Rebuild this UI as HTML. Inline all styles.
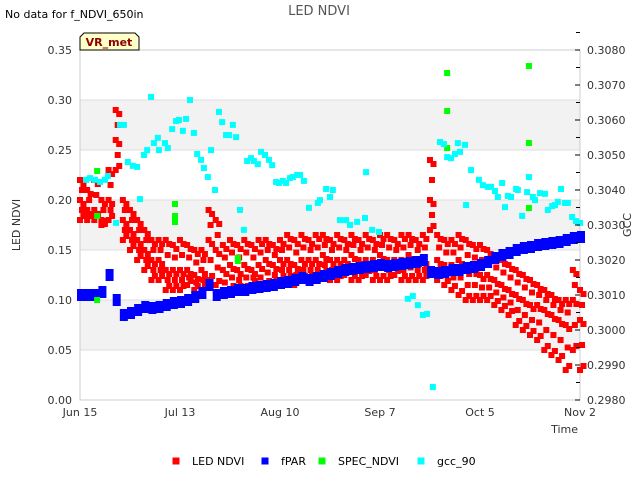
<!DOCTYPE html>
<html><head><meta charset="utf-8"><style>
body{margin:0;background:#fff;font-family:"Liberation Sans",sans-serif;}
svg text{font-family:"DejaVu Sans","Liberation Sans",sans-serif;}
</style></head><body>
<svg id="c" width="640" height="480" viewBox="0 0 640 480" xmlns="http://www.w3.org/2000/svg">
<rect x="0" y="0" width="640" height="480" fill="#fff"/>
<text x="5" y="18" font-size="11" fill="#000">No data for f_NDVI_650in</text>
<text x="319" y="15" font-size="13" fill="#555" text-anchor="middle">LED NDVI</text>
<g id="bands"></g>
<g id="grid"></g>
<rect x="80" y="50" width="500" height="350" fill="none" stroke="#ccc"/>
<g id="marks"></g>
<g id="axes"></g>
<g>
<path d="M80,50 L80,37 L84,33 L135,33 L139,37 L139,50 Z" fill="#ffffc8" stroke="#000" stroke-width="1"/>
<text x="109" y="46" font-size="11" font-weight="bold" fill="#8b0000" text-anchor="middle">VR_met</text>
</g>
<text transform="translate(20,225) rotate(-90)" font-size="11" fill="#333" text-anchor="middle">LED NDVI</text>
<text transform="translate(631,225) rotate(-90)" font-size="11" fill="#333" text-anchor="middle">GCC</text>
<text x="578" y="433" font-size="11" fill="#333" text-anchor="end">Time</text>
<g id="legend"></g>
</svg>
<script>
const xTicks=["Jun 15","Jul 13","Aug 10","Sep 7","Oct 5","Nov 2"];
const xTickDays=[0,28,56,84,112,140];
const yTicks=[0,0.05,0.10,0.15,0.20,0.25,0.30,0.35];
const y2Ticks=[0.2980,0.2990,0.3000,0.3010,0.3020,0.3030,0.3040,0.3050,0.3060,0.3070,0.3080];
const fparDays=[0,2,4,6,8,10,12,14,16,18,20,22,24,26,28,30,32,34,36,38,40,42,44,46,48,50,52,54,56,58,60,62,64,66,68,70,72,74,76,78,80,82,84,86,88,90,92,94,96,98,100,102,104,106,108,110,112,114,116,118,120,122,124,126,128,130,132,134,136,138,140];
const fparVals=[.105,.105,.105,.108,.125,.10,.085,.087,.09,.093,.092,.093,.095,.097,.098,.10,.103,.107,.115,.105,.107,.108,.11,.11,.112,.113,.114,.115,.117,.118,.12,.122,.12,.122,.124,.126,.128,.13,.131,.132,.133,.134,.135,.134,.135,.136,.137,.138,.14,.128,.127,.128,.13,.13,.132,.133,.135,.138,.142,.145,.147,.15,.152,.153,.155,.156,.157,.158,.16,.162,.163];
const ledHigh=[.22,.21,.22,.20,.23,.29,.20,.19,.18,.17,.16,.16,.16,.155,.16,.155,.15,.15,.19,.18,.155,.16,.155,.16,.155,.16,.16,.155,.16,.165,.16,.165,.16,.165,.165,.16,.165,.16,.165,.16,.165,.16,.165,.165,.16,.165,.165,.16,.165,.24,.165,.16,.16,.165,.16,.155,.155,.15,.145,.14,.135,.13,.125,.12,.115,.11,.105,.10,.10,.13,.11];
const ledMid=[.20,.19,.19,.18,.20,.26,.18,.17,.16,.15,.14,.14,.13,.13,.13,.13,.125,.13,.16,.15,.13,.135,.13,.135,.13,.135,.14,.135,.14,.14,.135,.14,.14,.14,.145,.14,.14,.14,.145,.14,.14,.14,.145,.14,.14,.14,.145,.14,.14,.20,.14,.135,.135,.14,.13,.13,.125,.125,.12,.115,.11,.105,.10,.095,.095,.09,.085,.08,.075,.10,.08];
const ledLow=[.18,.18,.18,.175,.18,.23,.16,.15,.14,.13,.12,.12,.11,.11,.11,.115,.11,.11,.12,.115,.105,.11,.11,.11,.115,.11,.115,.115,.12,.12,.115,.12,.12,.12,.125,.12,.12,.125,.12,.12,.125,.12,.12,.12,.125,.12,.12,.12,.12,.17,.12,.115,.11,.105,.10,.10,.10,.10,.095,.09,.085,.075,.07,.065,.06,.05,.045,.04,.03,.05,.03];
const specDays=[4.8,4.8,4.8,26.6,26.6,26.6,44.2,44.2,102.8,102.8,102.8,125.7,125.7,125.7];
const specVals=[.229,.184,.10,.196,.184,.178,.142,.139,.327,.289,.252,.334,.257,.192];
const gccDays=[1.7,2.8,4.2,5.6,7.0,7.8,10.1,11.2,12.3,13.4,14.8,16.0,16.8,17.9,18.8,19.9,20.7,21.8,22.1,23.8,24.6,25.8,26.9,27.7,28.8,29.7,30.8,31.9,32.8,33.9,34.7,35.8,36.7,37.8,38.9,39.8,40.9,41.7,42.8,43.7,44.8,45.9,46.8,47.9,48.7,49.8,50.7,51.8,52.9,53.8,54.9,55.7,56.8,57.7,58.8,59.6,60.8,61.6,62.7,64.1,66.6,67.2,68.9,70.0,70.8,72.8,74.5,75.6,77.6,79.8,80.1,81.8,83.7,91.8,93.2,94.6,96.0,97.2,98.8,100.8,101.9,102.8,103.9,105.0,105.8,106.4,107.8,108.1,109.5,111.7,112.8,114.2,115.1,116.2,117.0,118.2,119.0,119.8,120.7,122.1,122.6,123.8,125.2,125.7,126.8,127.4,128.8,130.2,131.0,132.2,133.0,133.8,134.7,135.8,136.6,137.8,138.9,140.0];
const gccVals=[.30429,.30434,.30429,.30423,.30429,.30440,.30306,.30586,.30586,.30480,.30469,.30466,.30374,.30500,.30514,.30666,.30534,.30549,.30514,.30534,.30520,.30574,.30597,.30600,.30569,.30603,.30657,.30563,.30503,.30486,.30463,.30437,.30514,.30400,.30623,.30594,.30557,.30557,.30586,.30551,.30343,.30286,.30483,.30491,.30483,.30474,.30509,.30500,.30486,.30471,.30423,.30420,.30426,.30420,.30434,.30437,.30443,.30443,.30426,.30349,.30363,.30371,.30403,.30380,.30400,.30314,.30314,.30300,.30309,.30320,.30451,.30286,.30280,.30089,.30097,.30071,.30043,.30046,.29837,.30537,.30531,.30494,.30491,.30503,.30534,.30509,.30529,.30357,.30457,.30429,.30414,.30409,.30409,.30397,.30380,.30420,.30351,.30383,.30380,.30403,.30400,.30326,.30394,.30437,.30380,.30371,.30391,.30389,.30343,.30354,.30357,.30366,.30403,.30363,.30363,.30323,.30311,.30306];

const NS='http://www.w3.org/2000/svg';
const X0=80,X1=580,Y0=400,Y1=50;
function xS(d){return X0+(d/140)*(X1-X0);}
function yS(v){return Y0-(v/0.35)*(Y0-Y1);}
function y2S(v){return Y0-((v-0.2980)/0.0100)*(Y0-Y1);}
function mk(tag,attrs,parent){const e=document.createElementNS(NS,tag);for(const k in attrs)e.setAttribute(k,attrs[k]);parent.appendChild(e);return e;}
const bands=document.getElementById('bands'),grid=document.getElementById('grid'),marks=document.getElementById('marks'),axes=document.getElementById('axes'),legend=document.getElementById('legend');
[[0.05,0.10],[0.15,0.20],[0.25,0.30]].forEach(b=>{
 const r=mk('rect',{x:X0,y:yS(b[1]),width:X1-X0,height:yS(b[0])-yS(b[1]),fill:'#f2f2f2'},bands);
 
 
});
yTicks.forEach((v,i)=>{
 const l=mk('line',{x1:X0,x2:X1,y1:yS(v),y2:yS(v),stroke:'#ddd'},grid);
 
 
 const t=mk('text',{x:72,y:yS(v)+4,'font-size':11,fill:'#333','text-anchor':'end'},axes);
 t.textContent=v.toFixed(2);
 
 
});
y2Ticks.forEach(v=>{
 const y=y2S(v);
 const l=mk('line',{x1:575,x2:580,y1:y,y2:y,stroke:'#000'},axes);
 
 
 const m=mk('line',{x1:576,x2:580,y1:y-17.5,y2:y-17.5,stroke:'#000'},axes);
 
 
 const t=mk('text',{x:587,y:y+4,'font-size':11,fill:'#333'},axes);
 t.textContent=v.toFixed(4);
 
 
});
xTicks.forEach((s,i)=>{
 const t=mk('text',{x:xS(xTickDays[i]),y:416,'font-size':11,fill:'#333','text-anchor':'middle'},axes);
 t.textContent=s;
 
 
});
function pt(x,y,c,name){
 const r=mk('rect',{x:x-3,y:y-3,width:6,height:6,fill:c},marks);
 
 
}
fparDays.forEach((d,i)=>{
 const h=ledHigh[i],m=ledMid[i],l=ledLow[i];
 pt(xS(d),yS(h),'#f00','led-ndvi-point');
 pt(xS(d)+3.5,yS(h-0.004),'#f00','led-ndvi-point');
 pt(xS(d)+2,yS((h+m)/2),'#f00','led-ndvi-point');
 pt(xS(d),yS(m),'#f00','led-ndvi-point');
 pt(xS(d)+3.5,yS(m-0.004),'#f00','led-ndvi-point');
 pt(xS(d)+2,yS((m+l)/2),'#f00','led-ndvi-point');
 pt(xS(d),yS(l),'#f00','led-ndvi-point');
 pt(xS(d)+3.5,yS(l+0.004),'#f00','led-ndvi-point');
});
fparDays.forEach((d,i)=>{
 const r=mk('rect',{x:xS(d)-3,y:yS(fparVals[i])-6,width:8,height:12,fill:'#00f'},marks);
 
 
});
specDays.forEach((d,i)=>pt(xS(d),yS(specVals[i]),'#0f0','spec-ndvi-point'));
gccDays.forEach((d,i)=>pt(xS(d),y2S(gccVals[i]),'#0ff','gcc-90-point'));
[['LED NDVI','#f00',176],['fPAR','#00f',265],['SPEC_NDVI','#0f0',322],['gcc_90','#0ff',421]].forEach(e=>{
 const g=mk('g',{},legend);
 
 
 mk('rect',{x:e[2]-3.5,y:457.5,width:7,height:7,fill:e[1]},g);
 const t=mk('text',{x:e[2]+16,y:465,'font-size':11,fill:'#000'},g);
 t.textContent=e[0];
});
</script>
</body></html>
